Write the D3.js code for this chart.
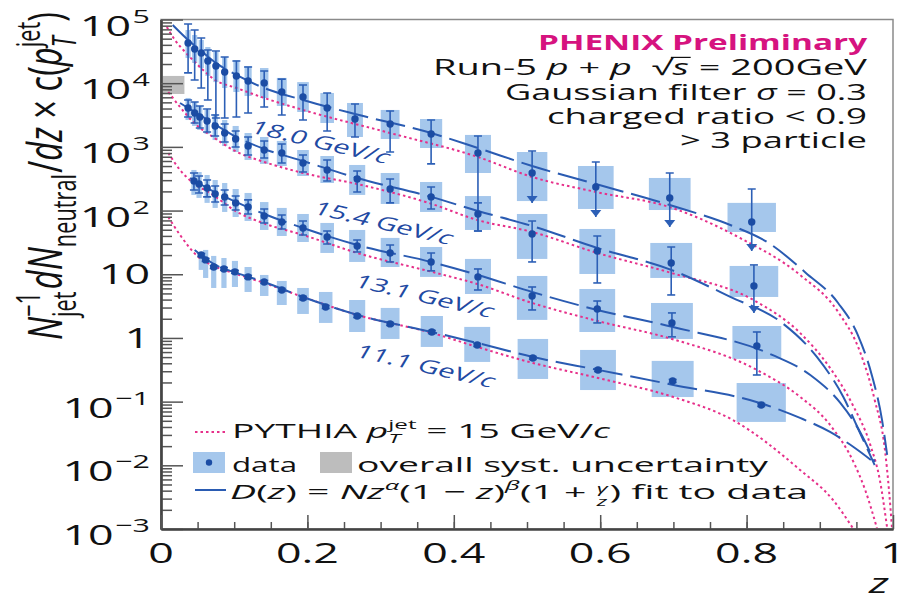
<!DOCTYPE html>
<html>
<head>
<meta charset="utf-8">
<script src="https://cdn.jsdelivr.net/npm/d3@7"></script>
<style>
  body { margin: 0; background: #fff; }
  text { font-family: "Open Sans", "Noto Sans", sans-serif; white-space: pre; }
</style>
</head>
<body>
<svg id="c" width="897" height="598"></svg>
<script>
// ---- axis ticks ----
const zTicks = [0, 0.2, 0.4, 0.6, 0.8, 1];
const zTickLabels = ["0", "0.2", "0.4", "0.6", "0.8", "1"];
const yDecades = [1e5, 1e4, 1e3, 1e2, 10, 1, 0.1, 0.01, 0.001];
const yTickBase = ["10", "10", "10", "10", "10", "1", "10", "10", "10"];
const yTickExp = ["5", "4", "3", "2", "", "", "\u22121", "\u22122", "\u22123"];

// ---- jet pT bins ----
const binLabels = ["18.0", "15.4", "13.1", "11.1"];

// ---- 18.0 GeV/c (scaled x1000) ----
const z18 = [0.037,0.046,0.055,0.064,0.075,0.087,0.103,0.119,0.141,0.165,0.194,0.227,0.265,0.313,0.369,0.433,0.507,0.594,0.695,0.807];
const v18 = [42800,34400,29800,22300,18600,15000,13000,10800,10100,7280,6070,4080,2740,2290,1590,802,389,234,158,66.2];
const hi18 = [84900,68400,51300,33200,32000,25800,22300,18000,15500,11600,9370,7020,4710,3660,2640,1480,863,579,389,218];
const lo18 = [14500,11200,8410,5450,2840,2840,2950,3410,4230,3170,2640,1780,1430,832,540,47.8,132,79.3,55.3,23.2];
const sysHi18 = [68400,57100,47700,37000,30900,25800,23100,18600,17300,12100,10400,7020,4890,3800,2740,1540,831,501,325,132];
const sysLo18 = [24900,20800,17300,13000,10400,8400,7270,6300,5860,4390,3530,2370,1430,1330,960,389,141,106,102,46.1];
const ul18 = [0,0,0,0,0,0,0,0,0,0,0,0,0,0,0,0,1,1,1,1];

// ---- 15.4 GeV/c (scaled x100) ----
const z15 = [0.037,0.046,0.053,0.063,0.074,0.087,0.102,0.119,0.141,0.165,0.194,0.227,0.268,0.313,0.369,0.433,0.507,0.596,0.697,0.810];
const v15 = [4080,3410,2950,2550,2130,1650,1330,1030,893,802,558,434,313,218,164,88.4,42.9,23.2,15.0,6.55];
const hi15 = [5450,5070,4390,3930,3170,2290,1780,1430,1240,1110,746,622,419,313,234,132,68.7,39.9,26.8,14.0];
const lo15 = [2950,2370,1980,1710,1480,1190,996,746,669,558,403,291,196,132,106,47.8,15.6,7.30,4.73,2.47];
const sysHi15 = [5860,5070,4390,3800,3280,2640,2130,1650,1430,1240,893,719,520,389,281,169,88.4,51.4,31.0,13.5];
const sysLo15 = [2640,2130,1840,1590,1280,1030,831,622,540,501,349,271,176,127,95.1,49.6,17.4,10.1,8.75,4.40];
const ul15 = [0,0,0,0,0,0,0,0,0,0,0,0,0,0,0,0,0,0,0,1];

// ---- 13.1 GeV/c (scaled x10) ----
const z13 = [0.045,0.052,0.063,0.074,0.087,0.102,0.119,0.141,0.165,0.194,0.227,0.268,0.313,0.369,0.433,0.507,0.596,0.698,0.814];
const v13 = [292,262,226,182,164,132,114,82.2,66.2,53.3,38.5,27.8,21.6,15.6,9.08,4.56,2.85,1.72,0.748];
const hi13 = [389,349,302,243,210,169,147,106,85.3,68.7,47.8,34.5,28.8,21.6,12.1,6.31,3.80,2.47,1.24];
const lo13 = [210,189,164,136,122,102,88.4,63.9,51.4,41.4,29.9,22.4,15.6,11.3,5.66,2.75,1.72,1.04,0.262];
const sysHi13 = [434,403,362,302,271,218,189,136,110,88.4,63.9,49.6,37.2,26.8,17.4,9.40,5.87,3.54,1.54];
const sysLo13 = [176,158,132,110,95.1,79.3,68.7,49.6,39.9,32.1,21.6,15.6,13.0,9.08,4.90,1.92,1.24,0.964,0.468];
const ul13 = [0,0,0,0,0,0,0,0,0,0,0,0,0,0,0,0,0,0,0];

// ---- 11.1 GeV/c ----
const z11 = [0.055,0.061,0.072,0.086,0.101,0.119,0.141,0.165,0.194,0.225,0.268,0.313,0.370,0.432,0.508,0.597,0.699,0.820];
const v11 = [20.1,16.8,13.0,12.1,10.9,9.08,7.57,5.66,4.24,3.06,2.21,1.66,1.24,0.776,0.485,0.314,0.211,0.0887];
const hi11 = [21.2,17.7,13.7,12.8,11.5,9.6,8.0,6.0,4.5,3.23,2.33,1.75,1.31,0.82,0.512,0.332,0.223,0.0937];
const lo11 = [19.0,15.9,12.3,11.5,10.3,8.6,7.2,5.4,4.0,2.90,2.09,1.57,1.17,0.735,0.459,0.297,0.200,0.0840];
const sysHi11 = [21.6,24.1,19.4,18.0,16.2,13.0,9.75,7.85,6.09,5.27,3.94,2.96,2.21,1.49,0.964,0.648,0.436,0.196];
const sysLo11 = [11.7,8.75,6.09,6.09,6.31,5.27,4.56,3.29,2.38,1.72,1.24,0.964,0.722,0.420,0.227,0.152,0.118,0.048];
const ul11 = [0,0,0,0,0,0,0,0,0,0,0,0,0,0,0,0,0,0];

// ---- D(z) fits, [z, value] ----
const fit18 = [[0.016,81950],[0.037,47700],[0.055,32000],[0.075,20800],[0.103,13450],[0.141,8400],[0.194,5450],[0.265,3280],[0.369,1650],[0.433,960],[0.507,501],[0.594,261],[0.695,122],[0.781,57.3],[0.828,32.1],[0.881,10.5],[0.925,3.54],[0.952,1.11],[0.971,0.262],[0.985,0.0516],[0.992,0.0146]];
const fit15 = [[0.026,4890],[0.037,4080],[0.055,3060],[0.075,2210],[0.103,1430],[0.141,927],[0.194,600],[0.268,325],[0.369,164],[0.433,98.5],[0.507,57.3],[0.596,25.9],[0.697,11.7],[0.777,4.46],[0.848,1.74],[0.896,0.503],[0.932,0.119],[0.955,0.0322],[0.975,0.0101]];
const fit13 = [[0.040,325],[0.063,226],[0.103,136],[0.141,88.4],[0.194,53.3],[0.268,28.8],[0.369,15.6],[0.433,9.75],[0.507,5.27],[0.596,2.75],[0.698,1.50],[0.835,0.541],[0.887,0.262],[0.928,0.0954],[0.955,0.0334],[0.975,0.0113]];
const fit11 = [[0.046,24.1],[0.072,14.5],[0.103,10.5],[0.141,7.57],[0.194,4.40],[0.268,2.30],[0.370,1.24],[0.432,0.834],[0.508,0.503],[0.597,0.315],[0.700,0.183],[0.818,0.0954],[0.873,0.0555],[0.914,0.0334],[0.948,0.0187],[0.975,0.0109]];

// ---- PYTHIA pT(jet) = 15 GeV/c, [z, value] ----
const py18 = [[0.008,76200],[0.019,47700],[0.033,30900],[0.053,18000],[0.074,11200],[0.103,8400],[0.141,5860],[0.194,3800],[0.313,1650],[0.433,694],[0.507,337],[0.594,196],[0.694,114],[0.791,37.1],[0.873,9.75],[0.925,2.56],[0.955,0.603],[0.975,0.106],[0.989,0.0174],[0.9945,0.0041],[0.9986,0.00104]];
const py15 = [[0.010,7270],[0.026,4230],[0.044,2460],[0.071,1430],[0.104,831],[0.141,579],[0.194,389],[0.268,261],[0.370,127],[0.432,71.2],[0.507,46.1],[0.596,21.6],[0.697,10.5],[0.809,3.95],[0.873,1.20],[0.914,0.338],[0.945,0.0887],[0.969,0.0209],[0.982,0.0059],[0.992,0.00104]];
const py13 = [[0.010,802],[0.026,434],[0.044,271],[0.067,189],[0.104,95.1],[0.139,63.9],[0.194,41.4],[0.268,21.6],[0.370,10.9],[0.432,7.04],[0.507,3.54],[0.596,1.85],[0.698,0.964],[0.814,0.315],[0.873,0.119],[0.914,0.0431],[0.948,0.0101],[0.962,0.0041],[0.978,0.00104]];
const py11 = [[0.010,79.3],[0.026,41.4],[0.051,18.7],[0.072,13.5],[0.103,10.1],[0.141,7.30],[0.194,4.40],[0.268,2.30],[0.370,1.20],[0.432,0.722],[0.508,0.405],[0.597,0.235],[0.699,0.119],[0.781,0.0516],[0.873,0.00847],[0.918,0.00286],[0.945,0.00104]];

// ---- overall normalisation uncertainty band ----
const systZ = [0.002, 0.032];
const systVal = [6770, 13000];

// ---------------------------------------------------------------
const SX = 1.6;                // horizontal glyph stretch of all lettering
const C = {
  dot: "#1b4ca4", err: "#2c5fb6", box: "#a5c7ec", fit: "#2a5bb2",
  pythia: "#e6308a", title: "#d6137f", ink: "#111", axis: "#555", frame: "#8a8a8a"
};

const svg = d3.select("#c");
svg.append("rect").attr("width", 897).attr("height", 598).attr("fill", "#fff");

const x = d3.scaleLinear().domain([0, 1]).range([161, 893]);
const y = d3.scaleLog().domain([1e-3, 1e5]).range([529, 19.5]);

svg.append("clipPath").attr("id", "plotclip").append("rect")
  .attr("x", x(0)).attr("y", y(1e5)).attr("width", x(1) - x(0)).attr("height", y(1e-3) - y(1e5));

// rich text: a row of pieces (sub/superscripts, italics) drawn with the horizontal stretch.
// opt.w: wanted on-screen width of an unrotated row; opt.L: wanted run length of a rotated row
function rich(parent, px, py, pieces, opt = {}) {
  const size = opt.size || 20, fill = opt.fill || C.ink;
  const g = parent.append("g").attr("transform",
    `translate(${px},${py}) scale(${SX},1)` + (opt.rotate ? ` rotate(${opt.rotate})` : ""));
  const inner = g.append("g");
  let cx = 0, stackX = 0;
  pieces.forEach(p => {
    const fs = p.size || size;
    const t = inner.append("text")
      .attr("y", p.dy || 0)
      .attr("font-size", fs)
      .attr("font-style", p.it ? "italic" : null)
      .attr("font-weight", p.bold || opt.bold ? "bold" : null)
      .attr("fill", p.fill || fill)
      .text(p.t);
    const w = t.node().getComputedTextLength();
    if (p.stack) { t.attr("x", stackX); cx = Math.max(cx, stackX + w); }
    else { stackX = cx + (p.dx || 0); t.attr("x", stackX); cx = stackX + w; }
    if (p.over) {
      inner.append("line").attr("x1", stackX - 1).attr("x2", stackX + w + 1)
        .attr("y1", (p.dy || 0) - fs * 0.80).attr("y2", (p.dy || 0) - fs * 0.80)
        .attr("stroke", p.fill || fill).attr("stroke-width", 1.2);
    }
  });
  let k = 1;
  if (opt.w) k = opt.w / (cx * SX);
  if (opt.L) k = opt.L / cx;
  const shift = opt.anchor === "end" ? -cx * k : opt.anchor === "middle" ? -cx * k / 2 : 0;
  inner.attr("transform", `translate(${shift},0) scale(${k},1)`);
  return g;
}

const series = [
  { z: z18, v: v18, hi: hi18, lo: lo18, sh: sysHi18, sl: sysLo18, ul: ul18, fit: fit18, py: py18 },
  { z: z15, v: v15, hi: hi15, lo: lo15, sh: sysHi15, sl: sysLo15, ul: ul15, fit: fit15, py: py15 },
  { z: z13, v: v13, hi: hi13, lo: lo13, sh: sysHi13, sl: sysLo13, ul: ul13, fit: fit13, py: py13 },
  { z: z11, v: v11, hi: hi11, lo: lo11, sh: sysHi11, sl: sysLo11, ul: ul11, fit: fit11, py: py11 }
];

const plot = svg.append("g").attr("clip-path", "url(#plotclip)");
const halfW = z => Math.max(2.6, (x(z * 1.041) - x(z * 0.959)) / 2);

// ---- systematic boxes ----
series.forEach(s => {
  plot.append("g").selectAll("rect").data(s.z).join("rect")
    .attr("x", z => x(z) - halfW(z))
    .attr("width", z => 2 * halfW(z))
    .attr("y", (z, i) => y(s.sh[i]))
    .attr("height", (z, i) => y(s.sl[i]) - y(s.sh[i]))
    .attr("fill", C.box);
});

// overall normalisation box
plot.append("rect")
  .attr("x", x(systZ[0])).attr("width", x(systZ[1]) - x(systZ[0]))
  .attr("y", y(systVal[1])).attr("height", y(systVal[0]) - y(systVal[1]))
  .attr("fill", "#bdbdbd");

// ---- curves ----
const line = d3.line().x(d => x(d[0])).y(d => y(d[1])).curve(d3.curveMonotoneX);
series.forEach(s => {
  plot.append("path").attr("d", line(s.py)).attr("fill", "none")
    .attr("stroke", C.pythia).attr("stroke-width", 2).attr("stroke-dasharray", "2.5,3");
});
series.forEach(s => {
  plot.append("path").attr("d", line(s.fit)).attr("fill", "none")
    .attr("stroke", C.fit).attr("stroke-width", 2).attr("stroke-dasharray", "30,8");
});

// ---- statistical bars, upper-limit arrows, points ----
series.forEach(s => {
  const g = plot.append("g").attr("stroke", C.err).attr("stroke-width", 1.6);
  s.z.forEach((z, i) => {
    const cx = x(z), yt = y(s.hi[i]), yb = y(s.lo[i]);
    g.append("line").attr("x1", cx).attr("x2", cx).attr("y1", yt).attr("y2", yb);
    g.append("line").attr("x1", cx - 4).attr("x2", cx + 4).attr("y1", yt).attr("y2", yt);
    if (s.ul[i]) {
      plot.append("path").attr("fill", C.err)
        .attr("d", `M${cx - 5.5},${yb - 7}L${cx + 5.5},${yb - 7}L${cx},${yb}Z`);
    } else {
      g.append("line").attr("x1", cx - 4).attr("x2", cx + 4).attr("y1", yb).attr("y2", yb);
    }
  });
  plot.append("g").selectAll("circle").data(s.z).join("circle")
    .attr("cx", z => x(z)).attr("cy", (z, i) => y(s.v[i])).attr("r", 3.7).attr("fill", C.dot);
});

// ---- frame and axes ----
svg.append("rect").attr("x", x(0)).attr("y", y(1e5)).attr("width", x(1) - x(0))
  .attr("height", y(1e-3) - y(1e5)).attr("fill", "none").attr("stroke", C.frame).attr("stroke-width", 1.5);

const minorY = [];
yDecades.slice(1).forEach(d => { for (let k = 2; k <= 9; k++) minorY.push(d * k); });
const yAxisMinor = d3.axisRight(y).tickValues(minorY).tickSize(11).tickFormat("").tickSizeOuter(0);
const yAxisMajor = d3.axisRight(y).tickValues(yDecades).tickSize(22).tickFormat("").tickSizeOuter(0);
const xAxisMinor = d3.axisTop(x).tickValues(d3.range(1, 20).map(k => k * 0.05)).tickSize(7).tickFormat("").tickSizeOuter(0);
const xAxisMajor = d3.axisTop(x).tickValues(zTicks).tickSize(14).tickFormat("").tickSizeOuter(0);

[yAxisMinor, yAxisMajor].forEach(a => svg.append("g").attr("transform", `translate(${x(0)},0)`).call(a));
[xAxisMinor, xAxisMajor].forEach(a => svg.append("g").attr("transform", `translate(0,${y(1e-3)})`).call(a));
svg.selectAll(".tick line").attr("stroke", C.axis).attr("stroke-width", 1.5);
svg.selectAll(".domain").attr("stroke", "#444").attr("stroke-width", 2.2);

// tick labels
yDecades.forEach((d, i) => {
  const hasExp = yTickExp[i] !== "";
  const pieces = [{ t: yTickBase[i] }];
  if (hasExp) pieces.push({ t: yTickExp[i], size: 19, dy: -13, dx: 1 });
  rich(svg, 150, y(d) + (hasExp ? 16 : 10), pieces, { anchor: "end", size: 28 });
});
zTicks.forEach((v, i) => rich(svg, x(v), 563, [{ t: zTickLabels[i] }], { anchor: "middle", size: 28 }));

// axis titles
rich(svg, 879, 593, [{ t: "z", it: true }], { anchor: "middle", size: 28 });
rich(svg, 62, 176, [
  { t: "N", it: true }, { t: "\u22121", size: 20, dy: -14 }, { t: "jet", size: 20, dy: 9, stack: true },
  { t: "d", it: true, dx: 2 }, { t: "N", it: true }, { t: "neutral", size: 20, dy: 9 },
  { t: "/", dx: 1 }, { t: "dz", it: true }, { t: " \u00d7 " }, { t: "c(" }, { t: "p", it: true },
  { t: "jet", size: 20, dy: -14 }, { t: "T", it: true, size: 20, dy: 9, stack: true }, { t: ")" }
], { anchor: "middle", size: 30, rotate: -90, L: 328 });

// ---- annotation ----
const ax = 867;
rich(svg, ax, 50, [{ t: "PHENIX Preliminary" }], { anchor: "end", size: 21, bold: true, fill: C.title, w: 329 });
rich(svg, ax, 75, [{ t: "Run-5 " }, { t: "p", it: true }, { t: " + " }, { t: "p", it: true },
  { t: "  \u221a" }, { t: "s", it: true, over: true }, { t: " = 200GeV" }], { anchor: "end", size: 22, w: 434 });
rich(svg, ax, 99.5, [{ t: "Gaussian filter " }, { t: "\u03c3", it: true }, { t: " = 0.3" }], { anchor: "end", size: 22, w: 362 });
rich(svg, ax, 123.5, [{ t: "charged ratio < 0.9" }], { anchor: "end", size: 22, w: 320 });
rich(svg, ax, 148, [{ t: "> 3 particle" }], { anchor: "end", size: 22, w: 187 });

// ---- curve labels ----
const labelPos = [[317, 148], [380, 229], [421, 302], [422, 372]];
binLabels.forEach((b, i) => {
  rich(svg, labelPos[i][0], labelPos[i][1], [{ t: b + " GeV/" }, { t: "c", it: true }],
    { anchor: "middle", size: 18.5, rotate: 20.3, fill: "#1f4aa3" });
});

// ---- legend ----
const lg = svg.append("g");
lg.append("line").attr("x1", 195).attr("x2", 228).attr("y1", 432).attr("y2", 432)
  .attr("stroke", C.pythia).attr("stroke-width", 2).attr("stroke-dasharray", "2.5,3");
rich(lg, 232, 438, [{ t: "PYTHIA " }, { t: "p", it: true }, { t: "jet", size: 13, dy: -9 },
  { t: "T", it: true, size: 13, dy: 5, stack: true }, { t: " = 15 GeV/" }, { t: "c", it: true }], { size: 20, w: 378 });

lg.append("rect").attr("x", 193).attr("y", 452).attr("width", 32).attr("height", 21).attr("fill", C.box);
lg.append("circle").attr("cx", 209).attr("cy", 462.5).attr("r", 3.2).attr("fill", C.dot);
rich(lg, 232, 472, [{ t: "data" }], { size: 20, w: 65 });
lg.append("rect").attr("x", 320).attr("y", 452).attr("width", 32).attr("height", 21).attr("fill", "#bdbdbd");
rich(lg, 357, 472, [{ t: "overall syst. uncertainty" }], { size: 20, w: 411 });

lg.append("line").attr("x1", 195).attr("x2", 226).attr("y1", 490).attr("y2", 490)
  .attr("stroke", C.fit).attr("stroke-width", 2);
rich(lg, 230, 499, [
  { t: "D", it: true }, { t: "(" }, { t: "z", it: true }, { t: ") = " }, { t: "Nz", it: true },
  { t: "\u03b1", it: true, size: 13, dy: -9 }, { t: "(1 \u2212 " }, { t: "z", it: true }, { t: ")" },
  { t: "\u03b2", it: true, size: 13, dy: -9 }, { t: "(1 + " }, { t: "\u03b3", it: true, size: 12, dy: -6 },
  { t: "z", it: true, size: 12, dy: 7, stack: true }, { t: ") fit to data", dx: 1 }
], { size: 20, w: 578 });
</script>
</body>
</html>
